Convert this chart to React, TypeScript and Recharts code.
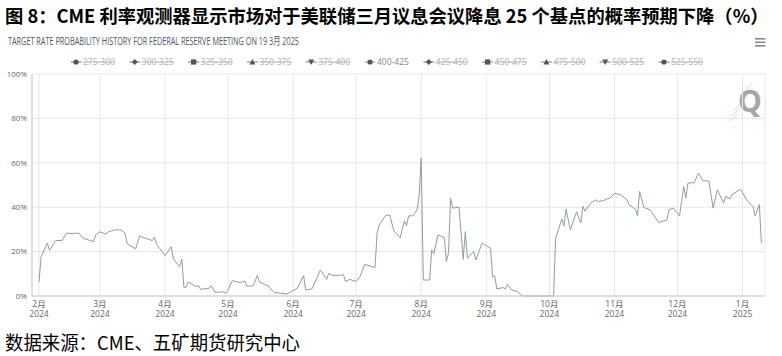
import React from 'react';
import { LineChart, Line, XAxis, YAxis, CartesianGrid } from 'recharts';

// trading dates (400-425 probability, %)
const dates = [
  '2024-02-01', '2024-02-02', '2024-02-05', '2024-02-06', '2024-02-09', '2024-02-12', '2024-02-14', '2024-02-16',
  '2024-02-20', '2024-02-22', '2024-02-27', '2024-02-28', '2024-03-01', '2024-03-04', '2024-03-05', '2024-03-08',
  '2024-03-11', '2024-03-13', '2024-03-14', '2024-03-18', '2024-03-20', '2024-03-21', '2024-03-26', '2024-03-27',
  '2024-03-28', '2024-04-01', '2024-04-04', '2024-04-05', '2024-04-08', '2024-04-09', '2024-04-10', '2024-04-11',
  '2024-04-12', '2024-04-16', '2024-04-17', '2024-04-18', '2024-04-22', '2024-04-23', '2024-04-25', '2024-04-29',
  '2024-04-30', '2024-05-01', '2024-05-03', '2024-05-07', '2024-05-09', '2024-05-10', '2024-05-13', '2024-05-15',
  '2024-05-16', '2024-05-20', '2024-05-23', '2024-05-29', '2024-06-03', '2024-06-06', '2024-06-07', '2024-06-10',
  '2024-06-14', '2024-06-17', '2024-06-18', '2024-06-20', '2024-06-25', '2024-06-26', '2024-06-28', '2024-07-01',
  '2024-07-03', '2024-07-05', '2024-07-10', '2024-07-11', '2024-07-12', '2024-07-15', '2024-07-17', '2024-07-19',
  '2024-07-22', '2024-07-24', '2024-07-25', '2024-07-26', '2024-07-28', '2024-07-30', '2024-07-31', '2024-08-01',
  '2024-08-02', '2024-08-05', '2024-08-06', '2024-08-07', '2024-08-09', '2024-08-12', '2024-08-13', '2024-08-14',
  '2024-08-15', '2024-08-16', '2024-08-19', '2024-08-21', '2024-08-22', '2024-08-23', '2024-08-26', '2024-08-27',
  '2024-08-30', '2024-09-03', '2024-09-04', '2024-09-05', '2024-09-06', '2024-09-09', '2024-09-10', '2024-09-11',
  '2024-09-13', '2024-09-16', '2024-09-18', '2024-09-25', '2024-10-03', '2024-10-04', '2024-10-07', '2024-10-08',
  '2024-10-09', '2024-10-11', '2024-10-14', '2024-10-16', '2024-10-17', '2024-10-18', '2024-10-21', '2024-10-23',
  '2024-10-24', '2024-10-27', '2024-10-28', '2024-10-30', '2024-11-01', '2024-11-04', '2024-11-07', '2024-11-08',
  '2024-11-11', '2024-11-12', '2024-11-13', '2024-11-15', '2024-11-18', '2024-11-20', '2024-11-22', '2024-11-26',
  '2024-11-27', '2024-11-29', '2024-12-02', '2024-12-04', '2024-12-05', '2024-12-06', '2024-12-09', '2024-12-11',
  '2024-12-13', '2024-12-16', '2024-12-18', '2024-12-20', '2024-12-23', '2024-12-24', '2024-12-26', '2024-12-27',
  '2024-12-31', '2025-01-03', '2025-01-06', '2025-01-07', '2025-01-09', '2025-01-10',
];

const probs = [
  6.2, 17.7, 23.8, 20.5, 25, 25, 28.3, 28.2,
  28.3, 26, 24.5, 27.6, 28.9, 27.9, 28.9, 29.8,
  29.8, 28.3, 23.5, 21.2, 27.2, 26.5, 25, 26.5,
  23.3, 18.2, 22.2, 16.7, 13.2, 16.7, 3.9, 3.9,
  6.3, 4.2, 4.6, 3, 3.5, 4.6, 1.6, 1.9,
  1.2, 2.7, 6.9, 6, 6.8, 4.5, 4.5, 9.3,
  6.3, 4.6, 1.6, 0.9, 3.5, 9.2, 2.7, 3.2,
  11.7, 7.5, 10.2, 9.2, 9.5, 6.5, 7.5, 6.5,
  8.9, 14.3, 12.8, 28.3, 32, 36.2, 36.5, 29.3,
  26.3, 33.8, 31.6, 36.1, 36.1, 38.8, 44.8, 62.1,
  7.2, 7.2, 20.8, 19, 27.5, 26.3, 15.5, 19.5,
  44, 39.6, 40, 16.5, 29, 17, 20, 16.2,
  23.8, 21.5, 8.7, 9, 3.2, 3.8, 3.2, 5.3,
  2.7, 2, 0, 0, 0, 26, 34.7, 31.6,
  39.1, 29.8, 37.9, 32.9, 40.3, 38.2, 42.1, 43.3,
  42.6, 43, 43.6, 44.1, 46.3, 45.6, 43.3, 41.1,
  39.1, 36.2, 47.1, 39.9, 38.8, 36.1, 33.1, 34.3,
  38.8, 39.6, 36.1, 49.3, 44.1, 50.8, 51.1, 55.4,
  52, 51.7, 39.6, 47.8, 41.9, 44.9, 43.7, 45.7,
  48.1, 43.3, 40.3, 36.1, 41.1, 23.8,
];

const monthTicks = [
  '2024-02-01', '2024-03-01', '2024-04-01', '2024-05-01', '2024-06-01', '2024-07-01',
  '2024-08-01', '2024-09-01', '2024-10-01', '2024-11-01', '2024-12-01', '2025-01-01',
];

const yTicks = [0, 20, 40, 60, 80, 100];

const legendNames = [
  '275-300', '300-325', '325-350', '350-375', '375-400', '400-425',
  '425-450', '450-475', '475-500', '500-525', '525-550',
];
const legendShapes = ['circle', 'diamond', 'square', 'triangle', 'triangleDown'];
const shownSeries = '400-425';

const BASE = Date.UTC(2024, 1, 1);
const toDay = (s: string) => {
  const [y, m, d] = s.split('-').map(Number);
  return (Date.UTC(y, m - 1, d) - BASE) / 86400000;
};

const data = dates.map((d, i) => ({ day: toDay(d), p: probs[i] }));
const tickDays = monthTicks.map(toDay);

const FONT = "'Open Sans', 'Noto Sans CJK SC', sans-serif";
const CJK = "'Noto Sans CJK SC', sans-serif";

const MonthTick = (props: any) => {
  const { x, y, payload } = props;
  const idx = tickDays.indexOf(payload.value);
  if (idx < 0) return null;
  const [yy, mm] = monthTicks[idx].split('-');
  return (
    <g transform={`translate(${x},${y})`}>
      <text textAnchor="middle" fill="#666" fontSize={8.5} fontFamily={FONT}>
        <tspan x={0} y={4.5}>{Number(mm)}月</tspan>
        <tspan x={0} y={15}>{yy}</tspan>
      </text>
    </g>
  );
};

const Marker = ({ shape, cx, cy }: { shape: string; cx: number; cy: number }) => {
  const c = '#555';
  if (shape === 'circle') return <circle cx={cx} cy={cy} r={2.6} fill={c} />;
  if (shape === 'square') return <rect x={cx - 2.6} y={cy - 2.6} width={5.2} height={5.2} fill={c} />;
  if (shape === 'diamond') return <path d={`M${cx} ${cy - 3}L${cx + 3} ${cy}L${cx} ${cy + 3}L${cx - 3} ${cy}Z`} fill={c} />;
  if (shape === 'triangle') return <path d={`M${cx} ${cy - 3}L${cx + 3} ${cy + 2.5}L${cx - 3} ${cy + 2.5}Z`} fill={c} />;
  return <path d={`M${cx} ${cy + 3}L${cx + 3} ${cy - 2.5}L${cx - 3} ${cy - 2.5}Z`} fill={c} />;
};

const LegendRow = () => (
  <svg width={782} height={20} style={{ position: 'absolute', left: 0, top: 52 }}>
    {legendNames.map((name, i) => {
      const cx = 76 + i * 58.8;
      const shown = name === shownSeries;
      return (
        <g key={name}>
          <line x1={cx - 5.5} x2={cx + 5.5} y1={10} y2={10} stroke={shown ? '#8d9e9e' : '#777'} strokeWidth={1} />
          <Marker shape={shown ? 'circle' : legendShapes[i % legendShapes.length]} cx={cx} cy={10} />
          <text
            x={cx + 7}
            y={13}
            fontSize={8.5}
            fontFamily={FONT}
            fill={shown ? '#888' : '#b0b0b0'}
            textDecoration={shown ? undefined : 'line-through'}
          >
            {name}
          </text>
        </g>
      );
    })}
  </svg>
);

export default function App() {
  return (
    <div style={{ position: 'absolute', left: 0, top: 0, width: 782, height: 356, background: '#fff', overflow: 'hidden' }}>
      <svg width={782} height={356} style={{ position: 'absolute', left: 0, top: 0 }}>
        <text x={5} y={22.5} fontSize={18.3} fontWeight={700} fontFamily={CJK} fill="#000">
          图 8：CME 利率观测器显示市场对于美联储三月议息会议降息 25 个基点的概率预期下降（%）
        </text>
        <text x={8} y={45} fontSize={10.8} fontFamily={FONT} fill="#4b5563" textLength={291} lengthAdjust="spacingAndGlyphs">
          TARGET RATE PROBABILITY HISTORY FOR FEDERAL RESERVE MEETING ON 19 3月 2025
        </text>
        <g stroke="#888" strokeWidth={1.6}>
          <line x1={755} x2={765.5} y1={38.8} y2={38.8} />
          <line x1={755} x2={765.5} y1={42.3} y2={42.3} />
          <line x1={755} x2={765.5} y1={45.8} y2={45.8} />
        </g>
        <g stroke="#cdeefa" strokeWidth={1.2}>
          <line x1={729} x2={737} y1={121} y2={115} />
          <line x1={731} x2={741} y1={116} y2={108} />
          <line x1={734} x2={745} y1={110} y2={101} />
          <line x1={738} x2={748} y1={103} y2={95} />
          <line x1={742} x2={751} y1={96} y2={88} />
          <line x1={746} x2={752} y1={89} y2={83} />
        </g>
        <text x={738} y={112} fontSize={30} fontWeight={700} fontFamily={FONT} fill="#a6a6a6">
          Q
        </text>
        <text x={5} y={350} fontSize={19} fontFamily={CJK} fill="#000" textLength={295} lengthAdjust="spacingAndGlyphs">
          数据来源：CME、五矿期货研究中心
        </text>
      </svg>
      <LegendRow />
      <div style={{ position: 'absolute', left: 0, top: 0 }}>
        <LineChart width={782} height={356} data={data} margin={{ top: 74, right: 17, bottom: 30, left: 0 }}>
          <CartesianGrid stroke="#e6e6e6" />
          <XAxis
            dataKey="day"
            type="number"
            domain={[-3.33, 345.7]}
            allowDataOverflow
            ticks={tickDays}
            interval={0}
            tick={<MonthTick />}
            tickLine={false}
            tickSize={4}
            tickMargin={2}
            height={30}
            axisLine={{ stroke: '#ccc' }}
          />
          <YAxis
            type="number"
            domain={[0, 100]}
            ticks={yTicks}
            interval={0}
            width={32}
            tickLine={false}
            tickSize={3}
            tickMargin={2}
            axisLine={{ stroke: '#ccc' }}
            tick={{ fontSize: 8, fill: '#666', fontFamily: FONT }}
            tickFormatter={(v: number) => `${v}%`}
          />
          <Line
            type="linear"
            dataKey="p"
            name={shownSeries}
            stroke="#8d9e9e"
            strokeWidth={1}
            dot={false}
            isAnimationActive={false}
          />
        </LineChart>
      </div>
    </div>
  );
}
